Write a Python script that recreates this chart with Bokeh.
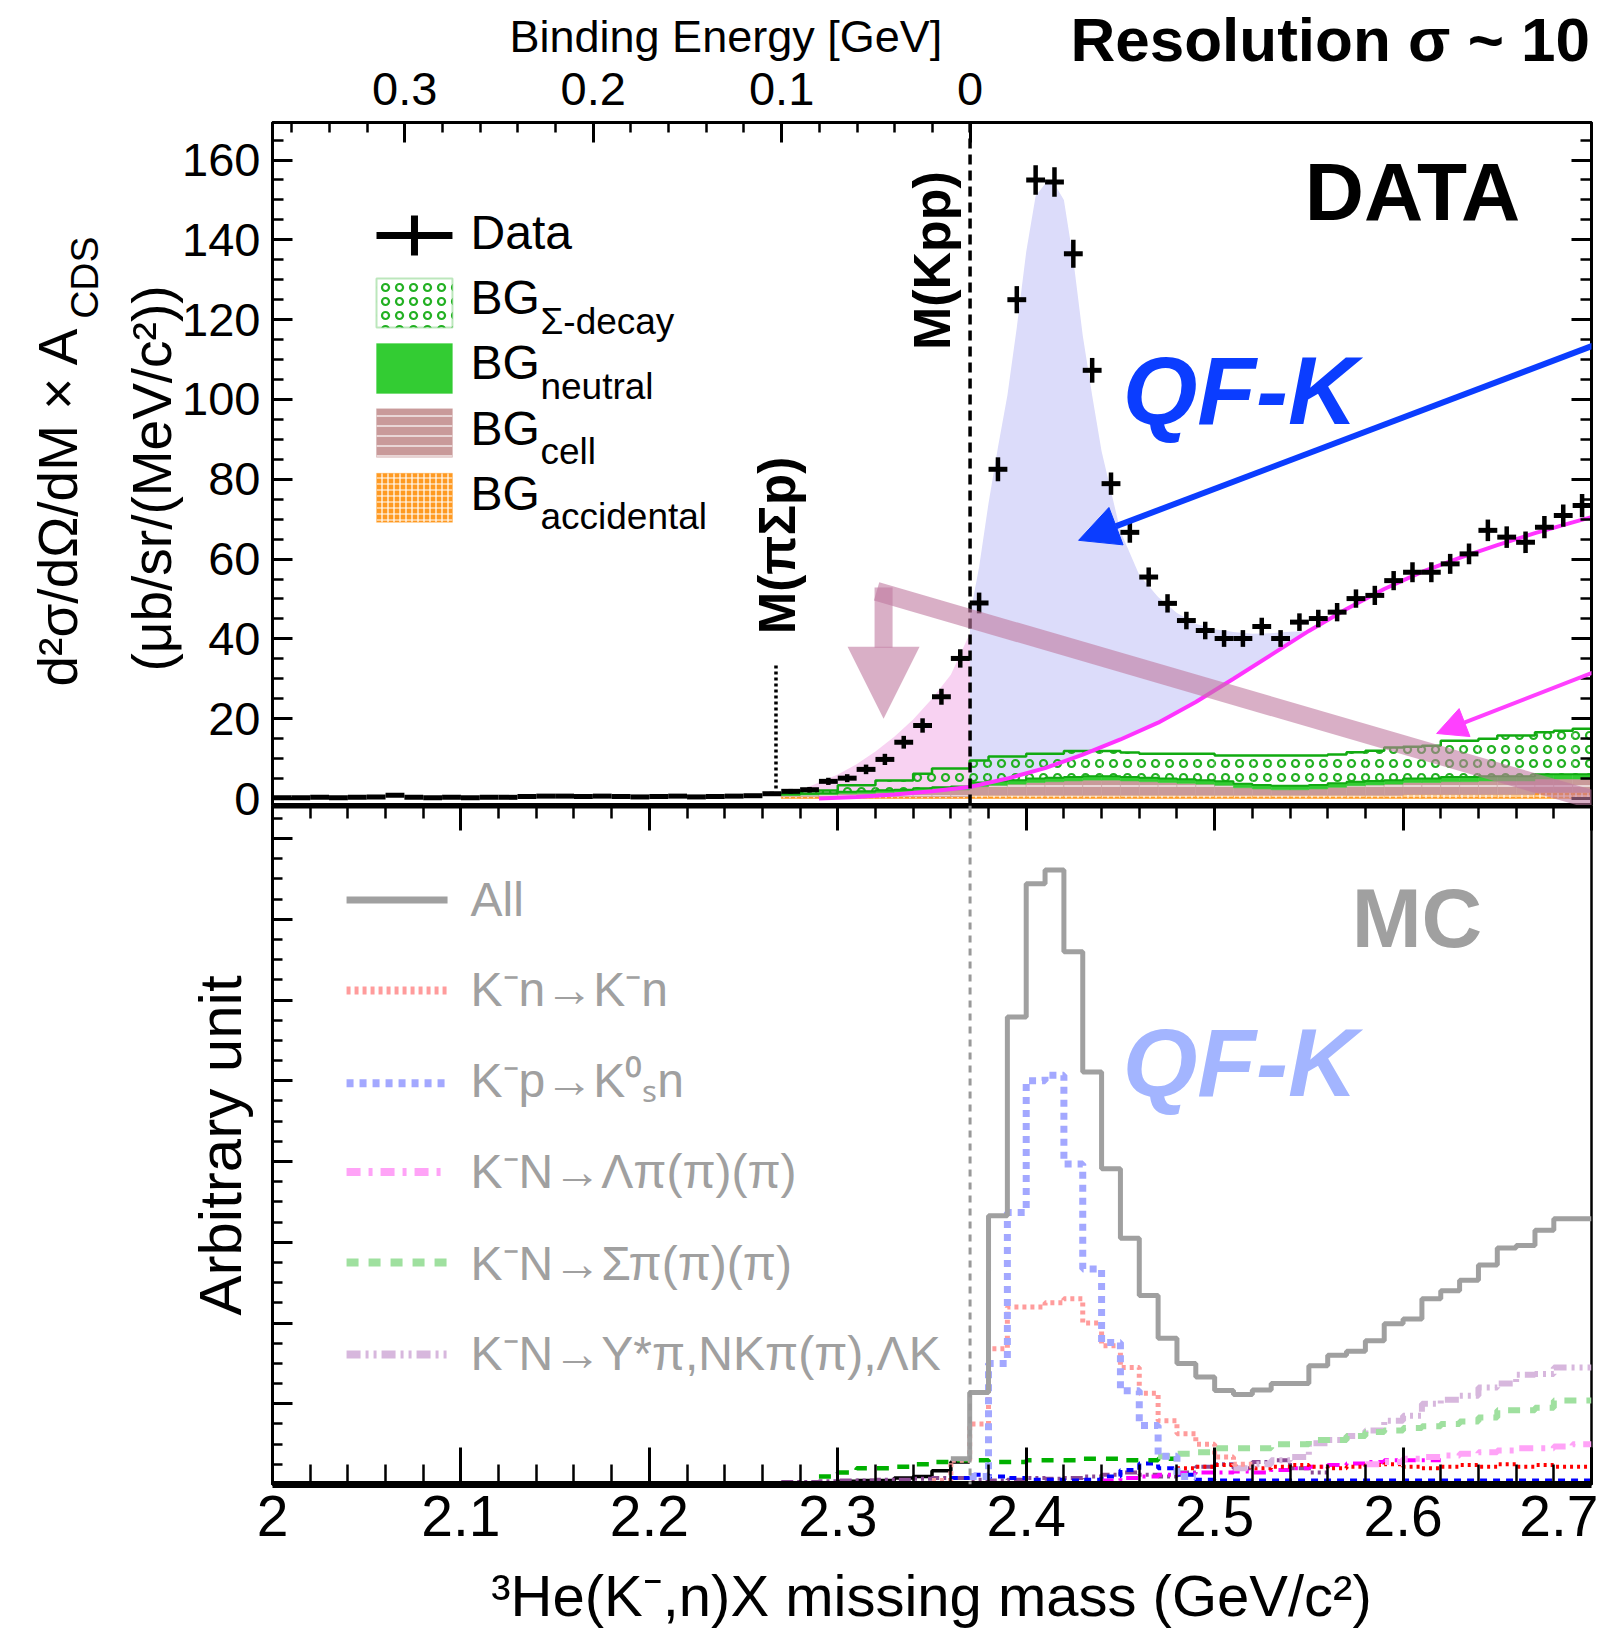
import numpy as np
from bokeh.plotting import figure
from bokeh.models import (Range1d, LinearAxis, FixedTicker, Span, Label, Arrow,
                          NormalHead, BoxAnnotation, GridBox,
                          CustomJSTickFormatter)
from bokeh.embed import file_html
from bokeh.resources import INLINE

FONT = "Liberation Sans"
W, H_TOP, H_BOT = 1598, 805, 824

# ---------------------------------------------------------------- constants
M_KPP = 2.3702        # K- + p + p threshold (GeV/c^2)
M_PISIGMAP = 2.2672   # pi + Sigma + p threshold (GeV/c^2)
BIN = 0.01            # 10 MeV bins
MASS_LO, MASS_HI = 2.0, 2.7

# ---------------------------------------------------------------- DATA panel
# d2sigma/dOmega/dM x A_CDS, bins of 10 MeV from 2.00 to 2.70
data_xsec = [0.2, 0.2, 0.3, 0.2, 0.3, 0.4, 0.8, 0.3, 0.2, 0.3,
             0.2, 0.3, 0.3, 0.5, 0.6, 0.6, 0.5, 0.6, 0.5, 0.4,
             0.5, 0.6, 0.4, 0.5, 0.6, 0.7, 1.2, 1.8,
             2.2, 4.3, 5.1, 7.3, 9.8, 14.1, 18.3, 25.5, 35.1, 49.0,
             82.5, 125.0, 155.0, 154.5, 136.5, 107.3, 78.9, 66.7, 55.5, 48.9,
             44.6, 42.1, 40.1, 40.1, 43.1, 40.1, 44.2, 45.1, 46.7, 50.1,
             50.9, 54.6, 56.7, 56.7, 58.8, 61.3, 67.2, 65.5, 64.2, 68.0,
             70.9, 73.4]
data_err = [0.4, 0.4, 0.4, 0.4, 0.4, 0.4, 0.4, 0.4, 0.4, 0.4,
            0.4, 0.4, 0.4, 0.4, 0.4, 0.4, 0.4, 0.4, 0.4, 0.4,
            0.4, 0.4, 0.4, 0.4, 0.4, 0.4, 0.5, 0.6,
            0.7, 0.9, 1.0, 1.2, 1.4, 1.6, 1.8, 2.0, 2.3, 2.6,
            3.0, 3.4, 3.7, 3.7, 3.5, 3.1, 2.8, 2.6, 2.4, 2.3,
            2.2, 2.2, 2.1, 2.1, 2.2, 2.1, 2.2, 2.2, 2.3, 2.3,
            2.4, 2.4, 2.5, 2.5, 2.5, 2.6, 2.7, 2.7, 2.7, 2.8,
            2.8, 2.9]

# QF-K envelope above threshold
qf_mass = [2.3702, 2.375, 2.380, 2.385, 2.390, 2.395, 2.400, 2.405, 2.410,
           2.415, 2.420, 2.425, 2.430, 2.435, 2.440, 2.445, 2.450, 2.460,
           2.470, 2.480, 2.490, 2.500, 2.510, 2.520, 2.530, 2.540, 2.550]
qf_xsec = [46.0, 58.0, 74.0, 88.0, 101.0, 118.0, 137.0, 151.0, 154.0,
           154.0, 150.0, 135.0, 116.0, 101.0, 87.0, 77.0, 67.0, 56.0,
           50.5, 46.5, 43.8, 42.4, 41.7, 41.3, 41.4, 41.8, 42.0]

# sub-threshold component
sub_mass = [2.28, 2.29, 2.30, 2.31, 2.32, 2.33, 2.34, 2.35, 2.36, 2.3702]
sub_xsec = [2.0, 4.0, 6.0, 8.6, 11.8, 15.5, 19.8, 25.0, 31.0, 41.5]

# broad component rising above threshold
mag_mass = [2.29, 2.31, 2.33, 2.35, 2.37, 2.39, 2.41, 2.43, 2.45, 2.47, 2.49,
            2.51, 2.53, 2.55, 2.57, 2.59, 2.61, 2.63, 2.65, 2.67, 2.69, 2.70]
mag_xsec = [0.0, 0.4, 1.0, 1.8, 2.9, 5.0, 7.6, 11.0, 14.8, 19.0, 24.2,
            30.0, 36.0, 42.0, 47.5, 52.5, 56.8, 60.3, 63.5, 66.5, 69.2, 70.5]

# stacked backgrounds, 10 MeV bins from 2.27
bg_start = 2.27
bg_accidental = [0.5, 0.5, 0.5, 0.5, 0.5, 0.5, 0.5, 0.5, 0.5, 0.5,
                 0.8, 0.8, 0.8, 0.8, 0.8, 0.8, 0.8, 0.8, 0.8, 0.8,
                 0.8, 0.8, 0.8, 0.8, 0.8, 0.8, 0.8, 0.8, 0.8, 0.8,
                 0.8, 0.8, 0.8, 1.0, 1.0, 1.0, 1.0, 1.0, 1.0, 1.0,
                 1.5, 1.5, 1.5]
bg_cell = [0.3, 0.4, 0.5, 0.7, 0.8, 1.0, 1.1, 1.3, 1.5, 1.7,
           2.2, 2.5, 2.8, 3.2, 3.4, 3.6, 3.8, 3.8, 3.6, 3.4,
           3.2, 3.0, 2.8, 2.5, 1.9, 1.6, 1.4, 1.4, 1.6, 2.0,
           2.4, 2.6, 2.8, 3.0, 3.0, 3.2, 3.2, 3.4, 3.4, 3.4,
           3.4, 3.4, 3.4]
bg_neutral = [0.2, 0.3, 0.3, 0.5, 0.5, 0.6, 0.6, 0.8, 0.8, 0.8,
              1.0, 1.0, 1.0, 1.0, 1.0, 1.0, 1.0, 1.0, 1.0, 1.0,
              1.0, 1.0, 1.0, 1.0, 1.0, 1.0, 1.0, 1.0, 1.0, 1.0,
              1.0, 1.0, 1.0, 1.0, 1.0, 1.2, 1.2, 1.2, 1.2, 1.2,
              1.2, 1.2, 1.2]
bg_sigma = [0.2, 0.6, 0.7, 1.6, 1.5, 2.4, 2.3, 3.6, 4.7, 4.5,
            5.5, 6.2, 5.9, 6.2, 6.0, 6.5, 6.3, 6.3, 6.1, 6.0,
            6.2, 6.4, 6.6, 6.5, 7.1, 7.4, 7.6, 7.6, 7.4, 7.2,
            7.4, 7.6, 8.2, 8.0, 8.2, 9.1, 9.1, 9.4, 10.2, 10.2,
            10.5, 10.9, 11.4]

# ---------------------------------------------------------------- MC panel
# (first bin low edge, contents per 10 MeV bin), arbitrary units
mc_all = (2.36, [0.32, 1.14, 3.33, 5.79, 7.44, 7.61, 6.60, 5.11, 3.91, 3.05,
                 2.34, 1.81, 1.50, 1.33, 1.165, 1.115, 1.17, 1.25, 1.25, 1.47,
                 1.60, 1.65, 1.78, 1.99, 2.05, 2.30, 2.40, 2.53, 2.72, 2.93,
                 2.96, 3.15, 3.29, 3.29])
mc_kn = (2.35, [0.05, 0.3, 0.75, 1.68, 2.2, 2.2, 2.25, 2.3, 2.0, 1.72,
                1.45, 1.13, 0.79, 0.63, 0.5, 0.34, 0.25])
mc_kp = (2.37, [0.1, 1.5, 3.37, 5.0, 5.07, 3.97, 2.67, 1.76, 1.16, 0.73,
                0.35, 0.1])
mc_lam = (2.58, [0.25, 0.28, 0.32, 0.34, 0.36, 0.38, 0.40, 0.42, 0.45, 0.45,
                 0.47, 0.50])
mc_sig = (2.47, [0.35, 0.38, 0.40, 0.45, 0.45, 0.45, 0.50, 0.50, 0.55, 0.55,
                 0.60, 0.65, 0.67, 0.70, 0.72, 0.75, 0.78, 0.83, 0.92, 0.92,
                 0.95, 1.04, 1.04])
mc_ystar = (2.51, [0.20, 0.25, 0.30, 0.34, 0.51, 0.55, 0.60, 0.67, 0.79, 0.85,
                   1.00, 1.05, 1.10, 1.20, 1.25, 1.36, 1.37, 1.45, 1.45])
# low-level parts of the same channels
mc_kn_low = (2.48, [0.20, 0.22, 0.24, 0.22, 0.20, 0.22, 0.24, 0.22, 0.20, 0.22,
                    0.24, 0.25, 0.22, 0.20, 0.22, 0.24, 0.22, 0.25, 0.22, 0.24,
                    0.22, 0.22])
mc_kp_low = (2.36, [0.08, 0.12, 0.10, 0.08, 0.06, 0.06, 0.05, 0.06, 0.10, 0.18,
                    0.26, 0.20, 0.12, 0.06, 0.05, 0.05, 0.05, 0.05, 0.05, 0.05,
                    0.05, 0.05, 0.05, 0.05, 0.05, 0.05, 0.05, 0.05, 0.05, 0.05,
                    0.05, 0.05, 0.05, 0.05])
mc_sig_low = (2.29, [0.10, 0.15, 0.20, 0.20, 0.22, 0.25, 0.28, 0.30, 0.30, 0.28,
                     0.28, 0.30, 0.30, 0.30, 0.32, 0.32, 0.30, 0.30, 0.32])
mc_lam_low = (2.44, [0.05, 0.08, 0.10, 0.12, 0.14, 0.15, 0.15, 0.16, 0.15, 0.18,
                     0.20, 0.22, 0.24, 0.26, 0.28, 0.30, 0.30, 0.30])
mc_ystar_low = (2.27, [0.03, 0.03, 0.04, 0.05, 0.05, 0.06, 0.06, 0.07, 0.08, 0.08,
                       0.06, 0.05, 0.06, 0.08, 0.07, 0.08, 0.10, 0.12, 0.15, 0.12,
                       0.10, 0.15, 0.22, 0.25, 0.20, 0.28, 0.30, 0.20, 0.15])
mc_all_low = (2.30, [0.04, 0.05, 0.05, 0.08, 0.10, 0.17, 0.28])


def step_xy(series):
    """Histogram outline for a (low edge, contents) pair."""
    start, vals = series
    edges = [round(start + BIN * i, 4) for i in range(len(vals) + 1)]
    return edges, list(vals) + [vals[-1]]


BLANK = CustomJSTickFormatter(code="return ''")


def axis(fig, side, ticks, minor, tick_in, minor_in, width, label_px=None,
         standoff=0, range_name=None, overrides=None):
    kw = dict(ticker=FixedTicker(ticks=ticks, minor_ticks=minor),
              major_tick_in=tick_in, major_tick_out=0,
              minor_tick_in=minor_in, minor_tick_out=0,
              major_tick_line_width=3, minor_tick_line_width=2.5,
              major_tick_line_color="black", minor_tick_line_color="black",
              axis_line_width=width, axis_line_color="black",
              major_label_text_font=FONT, major_label_text_color="black",
              major_label_standoff=standoff)
    if label_px:
        kw["major_label_text_font_size"] = label_px
    else:
        kw["major_label_text_font_size"] = "0px"
        kw["formatter"] = BLANK
    if range_name:
        kw["x_range_name"] = range_name
    if overrides:
        kw["major_label_overrides"] = overrides
    fig.add_layout(LinearAxis(**kw), side)


def label(fig, x, y, text, size, color="black", **kw):
    fig.add_layout(Label(x=x, y=y, text=text, text_font=FONT,
                         text_font_size=f"{size}px", text_color=color, **kw))


x_range = Range1d(MASS_LO, MASS_HI)

# ================================================================ top panel
top = figure(width=W, height=H_TOP, x_range=x_range,
             y_range=Range1d(-1.75, 169.4),
             x_axis_location=None, y_axis_location=None,
             min_border_left=272, min_border_right=7, min_border_top=122,
             min_border_bottom=0, output_backend="svg", toolbar_location=None)
top.extra_x_ranges = {"be": Range1d(M_KPP - MASS_LO, M_KPP - MASS_HI)}
top.xgrid.visible = False
top.ygrid.visible = False
top.outline_line_color = "black"
top.outline_line_width = 3
top.background_fill_color = "white"

y_major = list(range(0, 161, 20))
y_minor = list(range(0, 170, 5))
# the "0" label sits on the panel boundary, so it is drawn on the text layer
axis(top, "left", y_major, y_minor, 20, 11, 3, "47px", standoff=12,
     overrides={0: ""})
axis(top, "right", y_major, y_minor, 20, 11, 3)
axis(top, "above", [0, 0.1, 0.2, 0.3], [round(0.02 * i, 2) for i in range(19)],
     20, 10, 3, "47px", standoff=18, range_name="be", overrides={0: "0"})

# QF-K region: between the envelope and the broad component
lo_m = [m for m in mag_mass if M_KPP - 0.001 <= m <= qf_mass[-1] + 1e-9]
lo_v = [v for m, v in zip(mag_mass, mag_xsec) if M_KPP - 0.001 <= m <= qf_mass[-1] + 1e-9]
top.patch(qf_mass + lo_m[::-1], qf_xsec + lo_v[::-1],
          fill_color="#dcdcfa", line_color=None)
top.varea(x=sub_mass, y1=[0] * len(sub_mass), y2=sub_xsec,
          fill_color="#f8d2f2")

# stacked backgrounds
n_bg = len(bg_sigma)
bg_lo = [round(bg_start + BIN * i, 4) for i in range(n_bg)]
bg_hi = [round(bg_start + BIN * (i + 1), 4) for i in range(n_bg)]
acc_top = np.array(bg_accidental)
cell_top = acc_top + np.array(bg_cell)
neu_top = cell_top + np.array(bg_neutral)
sig_top = neu_top + np.array(bg_sigma)

ACC = dict(fill_color="#ff9a22", hatch_pattern="cross", hatch_color="white",
           hatch_scale=6, hatch_weight=1.2)
CELL = dict(fill_color="#c99a9a", hatch_pattern="horizontal_line",
            hatch_color="white", hatch_scale=10, hatch_weight=1.2)
NEUT = dict(fill_color="#33cc33")
SIGM = dict(hatch_pattern="ring", hatch_color="#22b022", hatch_scale=14,
            hatch_weight=2.2)

top.quad(left=bg_lo, right=bg_hi, bottom=0, top=acc_top,
         line_color="#ff9a22", line_width=0.5, **ACC)
top.quad(left=bg_lo, right=bg_hi, bottom=acc_top, top=cell_top,
         line_color="#c99a9a", line_width=0.5, **CELL)
top.quad(left=bg_lo, right=bg_hi, bottom=cell_top, top=neu_top,
         line_color="#33cc33", line_width=0.5, **NEUT)
top.quad(left=bg_lo, right=bg_hi, bottom=neu_top, top=sig_top,
         fill_color=None, line_color=None, **SIGM)
sx, sy = step_xy((bg_start, list(sig_top)))
top.step(sx, sy, mode="after", line_color="#11aa11", line_width=2.5)
sx, sy = step_xy((bg_start, list(neu_top)))
top.step(sx, sy, mode="after", line_color="#11aa11", line_width=2)

# broad component
top.line(mag_mass, mag_xsec, line_color="#ff33ff", line_width=4)

# measured points with error bars
centers = np.round(MASS_LO + BIN * (np.arange(len(data_xsec)) + 0.5), 4)
dy = np.array(data_xsec)
de = np.array(data_err)
top.segment(x0=centers - BIN / 2, x1=centers + BIN / 2, y0=dy, y1=dy,
            line_color="black", line_width=5)
top.segment(x0=centers, x1=centers, y0=dy - de, y1=dy + de,
            line_color="black", line_width=4.5)

# thresholds
top.add_layout(Span(location=M_KPP, dimension="height", line_color="black",
                    line_width=3.5, line_dash="10 6"))
top.add_layout(Arrow(end=None, x_start=M_PISIGMAP, x_end=M_PISIGMAP,
                     y_start=2.5, y_end=34.0, line_color="black",
                     line_width=3.5, line_dash="3 3"))
label(top, 2.3500, 134.8, "M(Kpp)", 52, text_font_style="bold",
      angle=np.pi / 2, text_align="center", text_baseline="middle")
label(top, 2.2678, 63.4, "M(πΣp)", 51, text_font_style="bold",
      angle=np.pi / 2, text_align="center", text_baseline="middle")

label(top, 2.5478, 140.7, "DATA", 82, text_font_style="bold")
label(top, 2.4512, 88.8, "QF-K", 96, color="#0b3dff",
      text_font_style="bold italic")

# legend
LEG_X0, LEG_X1, LEG_XT, LEG_XS = 2.0552, 2.0955, 2.1051, 2.1422
top.add_layout(Arrow(end=None, x_start=LEG_X0, x_end=LEG_X1, y_start=141.1,
                     y_end=141.1, line_color="black", line_width=7))
top.add_layout(Arrow(end=None, x_start=(LEG_X0 + LEG_X1) / 2,
                     x_end=(LEG_X0 + LEG_X1) / 2, y_start=136.1, y_end=146.1,
                     line_color="black", line_width=7))
label(top, LEG_XT, 135.3, "Data", 48)
legend_boxes = [
    (130.3, 118.0, dict(fill_color=None, fill_alpha=0, line_color="#22b022",
                        line_width=2, **SIGM), 118.8, "Σ-decay"),
    (114.0, 101.5, dict(fill_alpha=1, line_color="#33cc33", line_width=1,
                        **NEUT), 102.5, "neutral"),
    (97.7, 85.5, dict(fill_alpha=1, line_color="#c99a9a", line_width=1,
                      **CELL), 86.2, "cell"),
    (81.5, 69.2, dict(fill_alpha=1, line_color="#ff9a22", line_width=1,
                      **ACC), 69.9, "accidental"),
]
for y_top, y_bot, style, base, sub in legend_boxes:
    top.add_layout(BoxAnnotation(left=LEG_X0, right=LEG_X1, top=y_top,
                                 bottom=y_bot, **style))
    label(top, LEG_XT, base, "BG", 48)
    label(top, LEG_XS, base - 4.4, sub, 37)

# overlaid arrows
band = "#c07aa0"
top.add_layout(Arrow(end=None, x_start=2.3206, y_start=51.9, x_end=2.7037,
                     y_end=-0.75, line_color=band, line_alpha=0.6,
                     line_width=19))
top.add_layout(Arrow(end=None, x_start=2.3243, y_start=52.9, x_end=2.3243,
                     y_end=37.8, line_color=band, line_alpha=0.6,
                     line_width=18))
top.add_layout(Arrow(end=NormalHead(size=72, fill_color=band, fill_alpha=0.6,
                                    line_color=None),
                     x_start=2.3243, y_start=60.0, x_end=2.3243, y_end=20.0,
                     line_alpha=0))
top.add_layout(Arrow(end=NormalHead(size=40, fill_color="#0b3dff",
                                    line_color="#0b3dff"),
                     x_start=2.7037, y_start=114.0, x_end=2.4278, y_end=64.7,
                     line_color="#0b3dff", line_width=6))
top.add_layout(Arrow(end=NormalHead(size=30, fill_color="#ff40ff",
                                    line_color="#ff40ff"),
                     x_start=2.7037, y_start=32.1, x_end=2.6178, y_end=16.3,
                     line_color="#ff40ff", line_width=4))

# ================================================================ bottom panel
bot = figure(width=W, height=H_BOT, x_range=x_range, y_range=Range1d(0, 8.41),
             x_axis_location=None, y_axis_location=None,
             min_border_left=272, min_border_right=7, min_border_top=0,
             min_border_bottom=145, output_backend="svg",
             toolbar_location=None)
bot.xgrid.visible = False
bot.ygrid.visible = False
bot.outline_line_color = "black"
bot.outline_line_width = 2.5
bot.background_fill_color = "white"

x_major = [round(2.0 + 0.1 * i, 1) for i in range(8)]
x_minor = [round(2.0 + 0.02 * i, 2) for i in range(36)]
axis(bot, "above", x_major, x_minor, 25, 13, 6)
axis(bot, "below", x_major, x_minor, 37, 20, 7, "57px", standoff=11,
     overrides={2: "2"})
axis(bot, "left", list(range(0, 9)), [0.25 * i for i in range(34)], 20, 10, 3)

bot.add_layout(Span(location=M_KPP, dimension="height", line_color="#999999",
                    line_width=3, line_dash="7 6"))

styles = {
    "all": dict(line_color="#a0a0a0", line_width=5),
    "kn": dict(line_color="#ff9c9c", line_width=5, line_dash="4 4"),
    "kp": dict(line_color="#a3a8ff", line_width=7, line_dash="7 6"),
    "lam": dict(line_color="#ffa3f7", line_width=6, line_dash="14 8 4 8"),
    "sig": dict(line_color="#9fe09f", line_width=6, line_dash="12 10"),
    "ystar": dict(line_color="#d7b7dd", line_width=6, line_dash="14 5 3 5 3 5"),
}
low_styles = [
    (mc_all_low, dict(line_color="black", line_width=3.5)),
    (mc_ystar_low, dict(line_color="#8b4a94", line_width=4, line_dash="12 4 3 4 3 4")),
    (mc_kp_low, dict(line_color="#0000ff", line_width=4, line_dash="7 6")),
    (mc_lam_low, dict(line_color="#ff00ff", line_width=4, line_dash="12 6 3 6")),
    (mc_sig_low, dict(line_color="#00b000", line_width=4.5, line_dash="12 10")),
    (mc_kn_low, dict(line_color="#ff0000", line_width=4, line_dash="3 4")),
]
for series, st in low_styles:
    hx, hy = step_xy(series)
    bot.step(hx, hy, mode="after", **st)
for key, series in [("ystar", mc_ystar), ("sig", mc_sig), ("lam", mc_lam),
                    ("kn", mc_kn), ("kp", mc_kp), ("all", mc_all)]:
    hx, hy = step_xy(series)
    bot.step(hx, hy, mode="after", **styles[key])

# MC legend
LX0, LX1 = 2.0393, 2.0929
legend_rows = [
    ("all", 7.24, 6.92, "All"),
    ("kn", 6.12, 5.80, "K⁻n→K⁻n"),
    ("kp", 4.97, 4.68, "K⁻p→K⁰ₛn"),
    ("lam", 3.87, 3.55, "K⁻N→Λπ(π)(π)"),
    ("sig", 2.75, 2.41, "K⁻N→Σπ(π)(π)"),
    ("ystar", 1.61, 1.29, "K⁻N→Y*π,NKπ(π),ΛK"),
]
for key, yl, yt, txt in legend_rows:
    st = dict(styles[key])
    st["line_width"] = 7 if key == "all" else 8
    bot.add_layout(Arrow(end=None, x_start=LX0, x_end=LX1, y_start=yl,
                         y_end=yl, **st))
    label(bot, LEG_XT, yt, txt, 48, color="#a0a0a0")

label(bot, 2.5727, 6.43, "MC", 84, color="#a0a0a0", text_font_style="bold")
label(bot, 2.4512, 4.57, "QF-K", 96, color="#a3b5ff",
      text_font_style="bold italic")

# ================================================================ titles
# a transparent text layer in page pixels (y grows downward) for the
# axis titles and header that sit outside the two plot frames;
# every text here is anchored on the middle of its line box
page = figure(width=W, height=H_TOP + H_BOT, x_range=Range1d(0, W),
              y_range=Range1d(H_TOP + H_BOT, 0), min_border=0,
              x_axis_location=None, y_axis_location=None,
              output_backend="svg", toolbar_location=None)
page.frame_align = False
page.xgrid.visible = False
page.ygrid.visible = False
page.outline_line_color = None
page.background_fill_alpha = 0
page.border_fill_alpha = 0

MID = dict(text_baseline="middle")
UP = dict(angle=np.pi / 2, text_baseline="middle")
label(page, 509, 36, "Binding Energy [GeV]", 45, **MID)
label(page, 1070, 39, "Resolution σ ~ 10", 62, text_font_style="bold", **MID)
label(page, 260, 798, "0", 47, text_align="right", **MID)
label(page, 57, 686, "d²σ/dΩ/dM × A", 55, text_align="left", **UP)
label(page, 84, 236, "CDS", 39, text_align="right", **UP)
label(page, 151, 478, "(μb/sr/(MeV/c²))", 55, text_align="center", **UP)
label(page, 220, 1145, "Arbitrary unit", 60, text_align="center", **UP)
label(page, 931, 1595, "³He(K⁻,n)X missing mass (GeV/c²)", 58,
      text_align="center", **MID)

layout = GridBox(children=[(top, 0, 0), (bot, 1, 0), (page, 0, 0, 2, 1)],
                 spacing=0)
open("out.html", "w").write(file_html(layout, INLINE))
